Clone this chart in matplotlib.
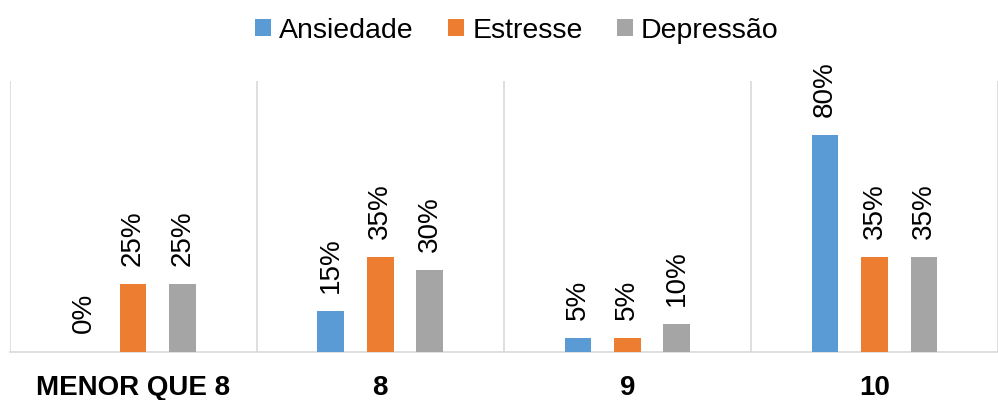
import matplotlib
matplotlib.use("Agg")
import matplotlib.pyplot as plt
import numpy as np

categories = ["MENOR QUE 8", "8", "9", "10"]
series_names = ["Ansiedade", "Estresse", "Depressão"]
ansiedade = [0.00, 0.15, 0.05, 0.80]
estresse = [0.25, 0.35, 0.05, 0.35]
depressao = [0.25, 0.30, 0.10, 0.35]
colors = ["#5B9BD5", "#ED7D31", "#A5A5A5"]

plt.rcParams['font.family'] = ['Liberation Sans', 'DejaVu Sans']

fig = plt.figure(figsize=(9.98, 4.0), dpi=100)
ax = fig.add_axes([9.5/998, 48.5/400, 988.5/998, 271/400])

x = np.arange(len(categories))
offsets = [-0.2, 0.0, 0.2]
width = 0.108
for vals, name, off, col in zip([ansiedade, estresse, depressao], series_names, offsets, colors):
    bars = ax.bar(x + off, vals, width, color=col, label=name, zorder=3)
    for b, v in zip(bars, vals):
        ax.annotate(f"{int(round(v*100))}%", (b.get_x() + b.get_width()/2, v),
                    xytext=(0, 13), textcoords="offset points", rotation=90,
                    ha="center", va="bottom", fontsize=20, color="black")

ax.set_xlim(-0.5, -0.5 + 988.5/250)
ax.set_ylim(0, 1.0)
ax.set_yticks([])
ax.set_xticks(x)
ax.set_xticklabels(categories, fontsize=20, fontweight="bold")
ax.tick_params(axis="x", length=0, pad=17)
ax.set_xticks(np.arange(-0.5, 4.0, 1.0), minor=True)
ax.tick_params(axis="x", which="minor", length=0)
ax.grid(True, which="minor", axis="x", color="#D9D9D9", linewidth=1.2, zorder=0)
for s in ["top", "right", "left"]:
    ax.spines[s].set_visible(False)
ax.spines["bottom"].set_color("#D9D9D9")
ax.spines["bottom"].set_linewidth(1.2)

fig.legend(loc="upper center", bbox_to_anchor=(0.518, 1.02), ncol=3, frameon=False,
           fontsize=20.5, handlelength=0.55, handleheight=0.55, handletextpad=0.3,
           columnspacing=1.2)

fig.savefig("out.png", dpi=100)
